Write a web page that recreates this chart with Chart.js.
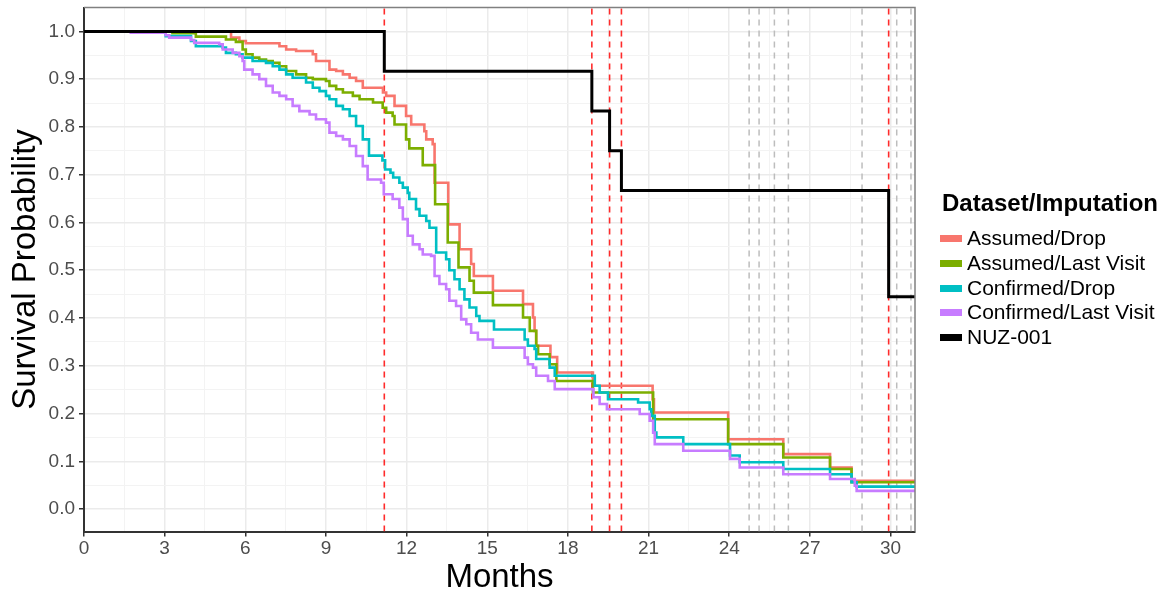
<!DOCTYPE html>
<html>
<head>
<meta charset="utf-8">
<script src="https://cdn.jsdelivr.net/npm/chart.js@4.4.1/dist/chart.umd.min.js"></script>
<style>
  body { margin: 0; background: #fff; }
  #wrap { position: relative; width: 1163px; height: 594px; font-family: "Liberation Sans", Arial, sans-serif; }
  #legend { position: absolute; left: 940px; top: 189px; color: #000; }
  #legend .ttl { font-weight: bold; font-size: 24px; line-height: 28px; margin-left: 2px; margin-bottom: 9px; }
  #legend .item { font-size: 21px; line-height: 24.8px; white-space: nowrap; }
  #legend .key { display: inline-block; width: 22px; height: 7px; vertical-align: middle; margin-right: 5px; position: relative; top: -1px; }
</style>
</head>
<body>
<div id="wrap">
  <canvas id="kmChart" width="1163" height="594"></canvas>
  <div id="legend"></div>
</div>
<script>
// step points: [month, survival from that month on]
const assumedDrop = [[0,1],[5.47,0.987],[5.78,0.98],[6.02,0.975],[7.27,0.969],[7.52,0.962],[7.89,0.959],[8.51,0.952],[8.63,0.938],[9.13,0.92],[9.38,0.917],[9.63,0.91],[9.88,0.903],[10.12,0.896],[10.37,0.882],[11.12,0.872],[11.24,0.865],[11.55,0.844],[11.98,0.823],[12.17,0.805],[12.66,0.791],[12.73,0.774],[12.97,0.764],[13.04,0.683],[13.55,0.596],[13.97,0.544],[14.4,0.513],[14.5,0.488],[15.21,0.457],[16.33,0.429],[16.7,0.401],[16.76,0.373],[16.82,0.342],[17.35,0.318],[17.6,0.286],[18.93,0.258],[21.15,0.23],[21.2,0.202],[23.96,0.146],[26.01,0.115],[27.75,0.087],[28.55,0.059],[30.91,0.059]];
const assumedLast = [[0,1],[3.29,0.996],[4.16,0.989],[5.28,0.983],[5.65,0.978],[5.9,0.962],[6.02,0.952],[6.27,0.945],[6.52,0.941],[6.77,0.938],[7.02,0.934],[7.27,0.927],[7.52,0.917],[7.89,0.91],[8.26,0.903],[8.51,0.9],[9.0,0.896],[9.13,0.886],[9.38,0.879],[9.63,0.872],[10.0,0.865],[10.25,0.858],[10.75,0.851],[11.11,0.84],[11.24,0.83],[11.48,0.823],[11.55,0.805],[11.98,0.774],[12.1,0.755],[12.6,0.72],[13.06,0.638],[13.53,0.558],[13.93,0.506],[14.34,0.478],[14.5,0.453],[15.21,0.427],[16.33,0.401],[16.58,0.373],[16.82,0.342],[16.89,0.324],[17.32,0.303],[17.57,0.268],[18.93,0.244],[21.17,0.188],[23.96,0.136],[26.01,0.108],[27.75,0.084],[28.55,0.056],[30.91,0.056]];
const confirmedDrop = [[0,1],[3.04,0.99],[3.98,0.98],[4.16,0.969],[5.16,0.966],[5.28,0.955],[5.65,0.952],[5.9,0.945],[6.27,0.938],[6.77,0.934],[7.02,0.927],[7.27,0.92],[7.52,0.91],[7.76,0.903],[8.26,0.893],[8.51,0.882],[8.76,0.875],[9.0,0.865],[9.13,0.858],[9.38,0.844],[9.63,0.837],[9.88,0.823],[10.12,0.802],[10.37,0.774],[10.6,0.74],[11.1,0.73],[11.2,0.711],[11.4,0.704],[11.5,0.694],[11.73,0.683],[11.86,0.673],[12.04,0.662],[12.1,0.649],[12.35,0.628],[12.48,0.614],[12.73,0.603],[12.85,0.589],[13.1,0.537],[13.47,0.523],[13.59,0.5],[13.78,0.481],[13.97,0.46],[14.15,0.439],[14.34,0.422],[14.59,0.404],[14.71,0.394],[15.25,0.376],[16.39,0.355],[16.51,0.342],[16.76,0.335],[16.82,0.314],[17.32,0.296],[17.51,0.279],[19.0,0.258],[19.18,0.244],[19.49,0.23],[20.61,0.223],[21.04,0.209],[21.1,0.195],[21.23,0.16],[21.29,0.15],[22.29,0.136],[24.03,0.112],[24.39,0.098],[26.01,0.084],[27.75,0.073],[28.55,0.056],[28.74,0.047],[30.91,0.047]];
const confirmedLast = [[0,1],[1.74,0.997],[3.04,0.992],[3.17,0.987],[3.98,0.982],[4.1,0.976],[5.03,0.973],[5.16,0.962],[5.53,0.955],[5.78,0.948],[5.9,0.938],[5.96,0.92],[6.27,0.91],[6.52,0.9],[6.77,0.886],[7.02,0.872],[7.27,0.865],[7.52,0.858],[7.76,0.844],[8.01,0.833],[8.39,0.826],[8.63,0.816],[9.0,0.809],[9.13,0.788],[9.38,0.781],[9.63,0.774],[9.88,0.76],[10.12,0.739],[10.37,0.718],[10.55,0.69],[11.05,0.683],[11.15,0.659],[11.48,0.649],[11.73,0.631],[11.86,0.607],[12.04,0.572],[12.23,0.554],[12.48,0.544],[12.6,0.533],[12.91,0.53],[13.04,0.488],[13.22,0.471],[13.47,0.46],[13.59,0.436],[13.84,0.425],[14.03,0.397],[14.22,0.387],[14.4,0.369],[14.65,0.355],[15.21,0.338],[16.39,0.317],[16.51,0.303],[16.7,0.296],[16.82,0.279],[17.26,0.268],[17.51,0.251],[18.95,0.234],[19.18,0.22],[19.45,0.209],[20.67,0.199],[21.04,0.185],[21.17,0.16],[21.23,0.136],[22.29,0.122],[24.03,0.105],[24.39,0.087],[26.01,0.073],[27.75,0.063],[28.67,0.049],[28.74,0.038],[30.91,0.038]];
const nuz001 = [[0,1],[11.17,0.9167],[18.89,0.8333],[19.55,0.75],[19.99,0.6667],[29.93,0.4444],[30.91,0.4444]];

const redLines = [11.17, 18.89, 19.55, 19.99, 29.93];
const greyLines = [24.74, 25.11, 25.68, 26.2, 28.94, 30.23, 30.76];

const xMajor = [0, 3, 6, 9, 12, 15, 18, 21, 24, 27, 30];
const yMajor = [0, 0.1, 0.2, 0.3, 0.4, 0.5, 0.6, 0.7, 0.8, 0.9, 1.0];

const seriesNames = ['Assumed/Drop', 'Assumed/Last Visit', 'Confirmed/Drop', 'Confirmed/Last Visit', 'NUZ-001'];
const seriesData = [assumedDrop, assumedLast, confirmedDrop, confirmedLast, nuz001];
const seriesColors = ['#F8766D', '#7CAE00', '#00BFC4', '#C77CFF', '#000000'];

const X_MIN = 0, X_MAX = 30.91, Y_MIN = -0.047, Y_MAX = 1.05;
const FONT = '"Liberation Sans", Arial, sans-serif';

const isMajorX = v => Math.abs(v / 3 - Math.round(v / 3)) < 1e-6;
const isMajorY = v => Math.abs(v * 10 - Math.round(v * 10)) < 1e-6;

const datasets = seriesData.map((d, i) => ({
    label: seriesNames[i],
    data: d.map(p => ({x: p[0], y: p[1]})),
    borderColor: seriesColors[i],
    backgroundColor: seriesColors[i],
    borderWidth: i === 4 ? 3 : 2.6,
    stepped: true,
    pointRadius: 0,
    fill: false,
    order: i === 4 ? 0 : 5 - i
}));
redLines.forEach(x => datasets.push({
    label: '_vline',
    data: [{x: x, y: Y_MIN}, {x: x, y: Y_MAX}],
    borderColor: 'rgba(255, 20, 20, 0.9)',
    borderWidth: 1.6,
    borderDash: [6, 5],
    pointRadius: 0,
    order: 10
}));
greyLines.forEach(x => datasets.push({
    label: '_vline',
    data: [{x: x, y: Y_MIN}, {x: x, y: Y_MAX}],
    borderColor: '#BDBDBD',
    borderWidth: 1.5,
    borderDash: [6, 5],
    pointRadius: 0,
    order: 11
}));

const panelBorder = {
    id: 'panelBorder',
    afterDraw(chart) {
        const {ctx, chartArea: a} = chart;
        ctx.save();
        ctx.strokeStyle = '#808080';
        ctx.lineWidth = 1.5;
        ctx.beginPath();
        ctx.moveTo(a.left, a.top);
        ctx.lineTo(a.right, a.top);
        ctx.lineTo(a.right, a.bottom);
        ctx.stroke();
        ctx.restore();
    }
};

const kmctx = document.getElementById('kmChart').getContext('2d');
const kmChart = new Chart(kmctx, {
    type: 'line',
    data: { datasets: datasets },
    plugins: [panelBorder],
    options: {
        responsive: false,
        animation: false,
        layout: { padding: { top: 7.5, right: 248, left: 0, bottom: 0 } },
        plugins: {
            legend: { display: false },
            tooltip: { enabled: false }
        },
        scales: {
            x: {
                type: 'linear',
                min: X_MIN,
                max: X_MAX,
                afterBuildTicks: scale => {
                    const t = [];
                    xMajor.forEach(v => { t.push(v); if (v + 1.5 < X_MAX) t.push(v + 1.5); });
                    scale.ticks = t.map(v => ({value: v}));
                },
                afterFit: scale => {
                    scale.height = 62.5;
                    scale.paddingLeft = 0;
                    scale.paddingRight = 0;
                },
                ticks: {
                    autoSkip: false,
                    maxRotation: 0,
                    padding: 1,
                    color: '#4D4D4D',
                    font: { family: FONT, size: 19 },
                    callback: v => isMajorX(v) ? String(v) : ''
                },
                grid: {
                    color: c => isMajorX(c.tick.value) ? '#EBEBEB' : '#F3F3F3',
                    lineWidth: c => isMajorX(c.tick.value) ? 1.5 : 1,
                    tickColor: c => isMajorX(c.tick.value) ? '#333333' : 'rgba(0,0,0,0)',
                    tickLength: 5,
                    tickWidth: 1.5
                },
                border: { color: '#333333', width: 2 },
                title: {
                    display: true,
                    text: 'Months',
                    color: '#000',
                    padding: 0,
                    font: { family: FONT, size: 33, lineHeight: 1 }
                }
            },
            y: {
                min: Y_MIN,
                max: Y_MAX,
                afterBuildTicks: scale => {
                    const t = [];
                    yMajor.forEach(v => { t.push(v); if (v < 0.99) t.push(v + 0.05); });
                    scale.ticks = t.map(v => ({value: v}));
                },
                afterFit: scale => {
                    scale.width = 84;
                    scale.paddingTop = 0;
                    scale.paddingBottom = 0;
                },
                ticks: {
                    autoSkip: false,
                    padding: 4,
                    color: '#4D4D4D',
                    font: { family: FONT, size: 19 },
                    callback: v => isMajorY(v) ? v.toFixed(1) : ''
                },
                grid: {
                    color: c => isMajorY(c.tick.value) ? '#EBEBEB' : '#F3F3F3',
                    lineWidth: c => isMajorY(c.tick.value) ? 1.5 : 1,
                    tickColor: c => isMajorY(c.tick.value) ? '#333333' : 'rgba(0,0,0,0)',
                    tickLength: 5,
                    tickWidth: 1.5
                },
                border: { color: '#333333', width: 2 },
                title: {
                    display: true,
                    text: 'Survival Probability',
                    color: '#000',
                    padding: { top: 9, bottom: 0 },
                    font: { family: FONT, size: 33, lineHeight: 1 }
                }
            }
        }
    }
});

// legend like ggplot's guide
const legendEl = document.getElementById('legend');
let html = '<div class="ttl">Dataset/Imputation</div>';
seriesNames.forEach((name, i) => {
    html += '<div class="item"><span class="key" style="background:' + seriesColors[i] + '"></span>' + name + '</div>';
});
legendEl.innerHTML = html;
</script>
</body>
</html>
